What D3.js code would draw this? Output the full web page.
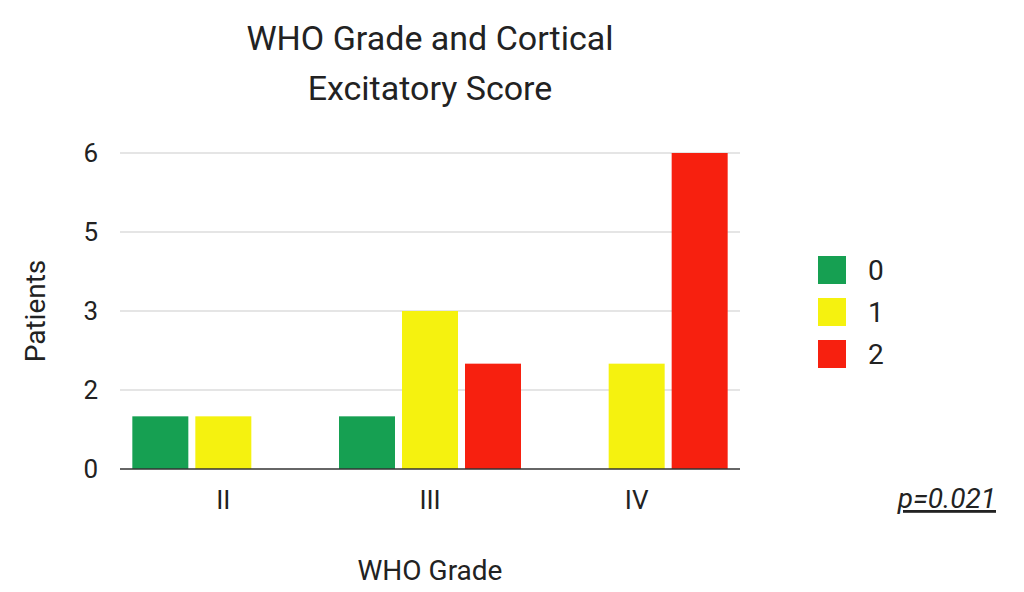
<!DOCTYPE html>
<html><head><meta charset="utf-8">
<script src="https://cdn.jsdelivr.net/npm/d3@7"></script>
<style>body{margin:0;background:#fff}text{font-family:"Helvetica Neue",Roboto,"Liberation Sans",sans-serif}</style>
</head><body><svg id="c" width="1024" height="592"></svg>
<script>
const categories = ["II","III","IV"];
const seriesNames = ["0","1","2"];
const seriesColors = ["#16a052","#f5f20f","#f7200f"];
const values = [ // per series, per category
  [1,1,0],
  [1,3,2],
  [0,2,6]
];
const tickValues = [0,1.5,3,4.5,6];
const tickLabels = ["0","2","3","5","6"];

const svg = d3.select("#c");
const x0 = d3.scaleBand().domain(categories).range([120,740]).paddingInner(0).paddingOuter(0);
const y = d3.scaleLinear().domain([0,6]).range([469,153]);
const barW = 56, step = 63;

svg.append("g").selectAll("line").data(tickValues.slice(1)).join("line")
  .attr("x1",120).attr("x2",740).attr("y1",d=>y(d)).attr("y2",d=>y(d))
  .attr("stroke","#ddd").attr("stroke-width",1.5);

const yAxis = d3.axisLeft(y).tickValues(tickValues).tickFormat((d,i)=>tickLabels[i]).tickSize(0).tickPadding(22);
const ya = svg.append("g").attr("transform","translate(120,0)").call(yAxis);
ya.select(".domain").remove();
ya.selectAll("text").attr("font-size",26).attr("fill","#222");

categories.forEach((c,ci)=>{
  const cx = x0(c)+x0.bandwidth()/2;
  seriesNames.forEach((s,si)=>{
    const v = values[ci][si];
    if(!v) return;
    svg.append("rect").attr("x",cx+(si-1)*step-barW/2).attr("width",barW)
      .attr("y",y(v)).attr("height",y(0)-y(v)).attr("fill",seriesColors[si]);
  });
});

svg.append("line").attr("x1",120).attr("x2",740).attr("y1",y(0)).attr("y2",y(0)).attr("stroke","#333").attr("stroke-width",1.5);

const xAxis = d3.axisBottom(x0).tickSize(0).tickPadding(22);
const xa = svg.append("g").attr("transform",`translate(0,${y(0)})`).call(xAxis);
xa.select(".domain").remove();
xa.selectAll("text").attr("font-size",26).attr("fill","#222");

svg.append("text").attr("x",430).attr("y",50).attr("text-anchor","middle").attr("font-size",34).attr("fill","#222").text("WHO Grade and Cortical");
svg.append("text").attr("x",430).attr("y",100).attr("text-anchor","middle").attr("font-size",34).attr("fill","#222").text("Excitatory Score");
svg.append("text").attr("x",430).attr("y",580).attr("text-anchor","middle").attr("font-size",28).attr("fill","#222").text("WHO Grade");
svg.append("text").attr("transform","translate(45,311) rotate(-90)").attr("text-anchor","middle").attr("font-size",28).attr("fill","#222").text("Patients");

seriesNames.forEach((s,i)=>{
  const yy = 270+i*42;
  svg.append("rect").attr("x",818).attr("y",yy-14).attr("width",28).attr("height",28).attr("fill",seriesColors[i]);
  svg.append("text").attr("x",868).attr("y",yy+10).attr("font-size",28).attr("fill","#222").text(s);
});

svg.append("text").attr("x",996).attr("y",508).attr("text-anchor","end").attr("font-size",28).attr("font-style","italic").attr("text-decoration","underline").attr("fill","#222").text("p=0.021");
</script></body></html>
